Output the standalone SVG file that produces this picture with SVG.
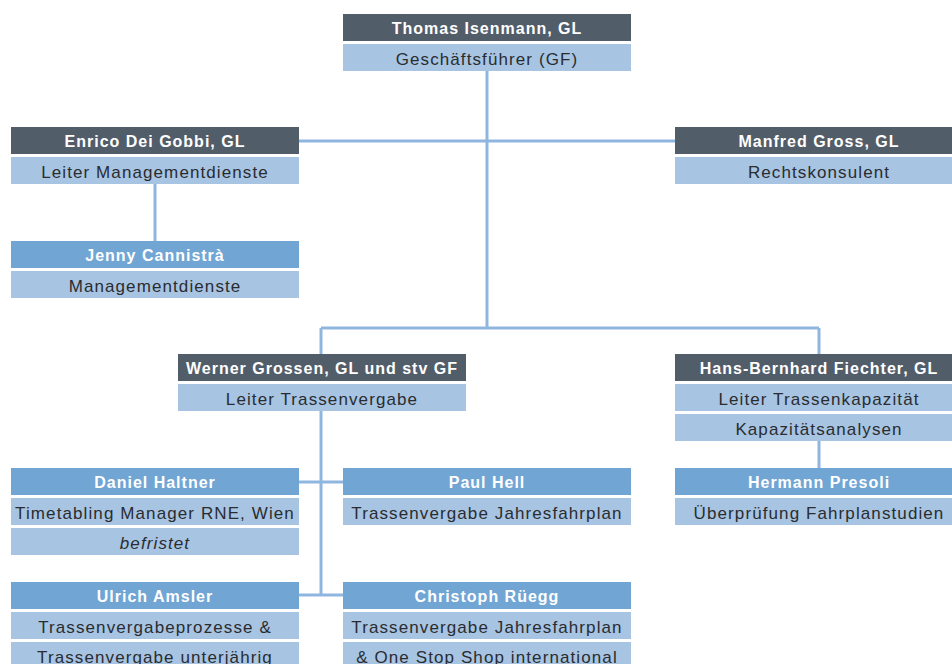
<svg xmlns="http://www.w3.org/2000/svg" width="952" height="664" viewBox="0 0 952 664">
<style>
.hd{fill:#525d6a}
.md{fill:#70a5d4}
.lt{fill:#a7c4e2}
.ht{font-family:"Liberation Sans",Arial,sans-serif;font-size:16px;font-weight:bold;fill:#ffffff;text-anchor:middle;letter-spacing:1px}
.st{font-family:"Liberation Sans",Arial,sans-serif;font-size:17px;fill:#2a2c30;text-anchor:middle;letter-spacing:1.1px}
.it{font-style:italic}
.cn{stroke:#8fb6df;stroke-width:3;fill:none}
</style>
<rect width="952" height="664" fill="#ffffff"/>
<g id="connectors">
<path class="cn" d="M487 71V328M299 141H675M155 184V241M321 328H819M321 328V354M819 328V354M321 411V595M299 482H343M299 595H343M819 441V468"/>
</g>
<g id="thomas">
<rect class="hd" x="343" y="14" width="288" height="27"/>
<text class="ht" x="487" y="33.5">Thomas Isenmann, GL</text>
<rect class="lt" x="343" y="44" width="288" height="27"/>
<text class="st" x="487" y="64.5">Geschäftsführer (GF)</text>
</g>
<g id="enrico">
<rect class="hd" x="11" y="127" width="288" height="27"/>
<text class="ht" x="155" y="146.5">Enrico Dei Gobbi, GL</text>
<rect class="lt" x="11" y="157" width="288" height="27"/>
<text class="st" x="155" y="177.5">Leiter Managementdienste</text>
</g>
<g id="manfred">
<rect class="hd" x="675" y="127" width="288" height="27"/>
<text class="ht" x="819" y="146.5">Manfred Gross, GL</text>
<rect class="lt" x="675" y="157" width="288" height="27"/>
<text class="st" x="819" y="177.5">Rechtskonsulent</text>
</g>
<g id="jenny">
<rect class="md" x="11" y="241" width="288" height="27"/>
<text class="ht" x="155" y="260.5">Jenny Cannistrà</text>
<rect class="lt" x="11" y="271" width="288" height="27"/>
<text class="st" x="155" y="291.5">Managementdienste</text>
</g>
<g id="werner">
<rect class="hd" x="178" y="354" width="288" height="27"/>
<text class="ht" x="322" y="373.5">Werner Grossen, GL und stv GF</text>
<rect class="lt" x="178" y="384" width="288" height="27"/>
<text class="st" x="322" y="404.5">Leiter Trassenvergabe</text>
</g>
<g id="hans">
<rect class="hd" x="675" y="354" width="288" height="27"/>
<text class="ht" x="819" y="373.5">Hans-Bernhard Fiechter, GL</text>
<rect class="lt" x="675" y="384" width="288" height="27"/>
<text class="st" x="819" y="404.5">Leiter Trassenkapazität</text>
<rect class="lt" x="675" y="414" width="288" height="27"/>
<text class="st" x="819" y="434.5">Kapazitätsanalysen</text>
</g>
<g id="hermann">
<rect class="md" x="675" y="468" width="288" height="27"/>
<text class="ht" x="819" y="487.5">Hermann Presoli</text>
<rect class="lt" x="675" y="498" width="288" height="27"/>
<text class="st" x="819" y="518.5">Überprüfung Fahrplanstudien</text>
</g>
<g id="daniel">
<rect class="md" x="11" y="468" width="288" height="27"/>
<text class="ht" x="155" y="487.5">Daniel Haltner</text>
<rect class="lt" x="11" y="498" width="288" height="27"/>
<text class="st" x="155" y="518.5">Timetabling Manager RNE, Wien</text>
<rect class="lt" x="11" y="528" width="288" height="27"/>
<text class="st it" x="155" y="548.5">befristet</text>
</g>
<g id="paul">
<rect class="md" x="343" y="468" width="288" height="27"/>
<text class="ht" x="487" y="487.5">Paul Hell</text>
<rect class="lt" x="343" y="498" width="288" height="27"/>
<text class="st" x="487" y="518.5">Trassenvergabe Jahresfahrplan</text>
</g>
<g id="ulrich">
<rect class="md" x="11" y="582" width="288" height="27"/>
<text class="ht" x="155" y="601.5">Ulrich Amsler</text>
<rect class="lt" x="11" y="612" width="288" height="27"/>
<text class="st" x="155" y="632.5">Trassenvergabeprozesse &amp;</text>
<rect class="lt" x="11" y="642" width="288" height="27"/>
<text class="st" x="155" y="662.5">Trassenvergabe unterjährig</text>
</g>
<g id="christoph">
<rect class="md" x="343" y="582" width="288" height="27"/>
<text class="ht" x="487" y="601.5">Christoph Rüegg</text>
<rect class="lt" x="343" y="612" width="288" height="27"/>
<text class="st" x="487" y="632.5">Trassenvergabe Jahresfahrplan</text>
<rect class="lt" x="343" y="642" width="288" height="27"/>
<text class="st" x="487" y="662.5">&amp; One Stop Shop international</text>
</g>
</svg>
